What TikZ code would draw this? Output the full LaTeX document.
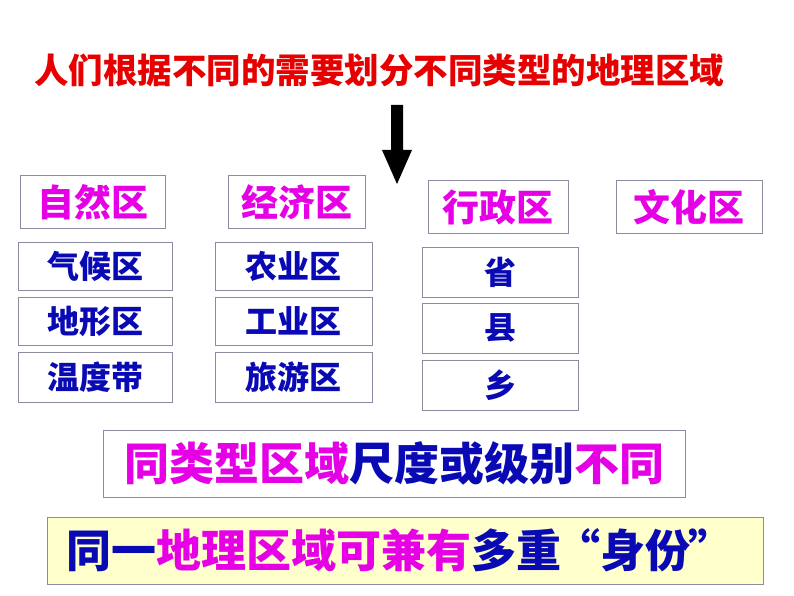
\documentclass[tikz,border=0pt]{standalone}
\usepackage{fontspec}
\newfontfamily\cjk{Noto Sans CJK SC}
\definecolor{mag}{RGB}{230,0,230}
\definecolor{dblue}{RGB}{10,10,180}
\definecolor{red1}{RGB}{230,0,0}
\definecolor{bx}{RGB}{140,140,160}
\definecolor{pale}{RGB}{255,255,204}
\begin{document}
\begin{tikzpicture}[x=1pt,y=-1pt,
  box/.style={draw=bx,line width=0.8pt,fill=white},
  cat/.style={font=\cjk\bfseries\fontsize{37}{37}\selectfont,text=mag},
  sub/.style={font=\cjk\bfseries\fontsize{32}{32}\selectfont,text=dblue}]
\useasboundingbox (0,0) rectangle (794,596);
\node[font=\cjk\bfseries\fontsize{34.5}{34.5}\selectfont,text=red1] (title) at (379,70) {人们根据不同的需要划分不同类型的地理区域};
\fill (391,105) rectangle (403,150) (382,150) -- (412,150) -- (397,184) -- cycle;
% categories
\draw[box] (20,175) rectangle (165,228); \node[cat] (c1) at (92.5,202) {自然区};
\draw[box] (228,175) rectangle (365,228); \node[cat] (c2) at (296.5,202) {经济区};
\draw[box] (428,180) rectangle (568,233); \node[cat] (c3) at (498,207) {行政区};
\draw[box] (616,180) rectangle (762,233); \node[cat] (c4) at (689,207) {文化区};
% column 1
\draw[box] (18,242) rectangle (172,290); \node[sub] (s11) at (95,266) {气候区};
\draw[box] (18,297) rectangle (172,345); \node[sub] (s12) at (95,321) {地形区};
\draw[box] (18,352) rectangle (172,402); \node[sub] (s13) at (95,377) {温度带};
% column 2
\draw[box] (215,242) rectangle (372,290); \node[sub] (s21) at (293.5,266) {农业区};
\draw[box] (215,297) rectangle (372,345); \node[sub] (s22) at (293.5,321) {工业区};
\draw[box] (215,352) rectangle (372,402); \node[sub] (s23) at (293.5,377) {旅游区};
% column 3
\draw[box] (422,247) rectangle (578,297); \node[sub] (s31) at (500,272) {省};
\draw[box] (422,303) rectangle (578,353); \node[sub] (s32) at (500,328) {县};
\draw[box] (422,360) rectangle (578,410); \node[sub] (s33) at (500,385) {乡};
% bottom
\draw[box] (103,430) rectangle (685,497);
\node[font=\cjk\bfseries\fontsize{45}{45}\selectfont] (b1) at (394,463) {\textcolor{mag}{同类型区域}\textcolor{dblue}{尺度或级别}\textcolor{mag}{不同}};
\draw[box,fill=pale] (47,517) rectangle (763,584);
\node[font=\cjk\bfseries\fontsize{45}{45}\selectfont] (b2) at (400,550) {\textcolor{dblue}{同一}\textcolor{mag}{地理区域可兼有}\textcolor{dblue}{多重\kern-6pt“身份\kern-2pt”}};
\end{tikzpicture}
\end{document}
